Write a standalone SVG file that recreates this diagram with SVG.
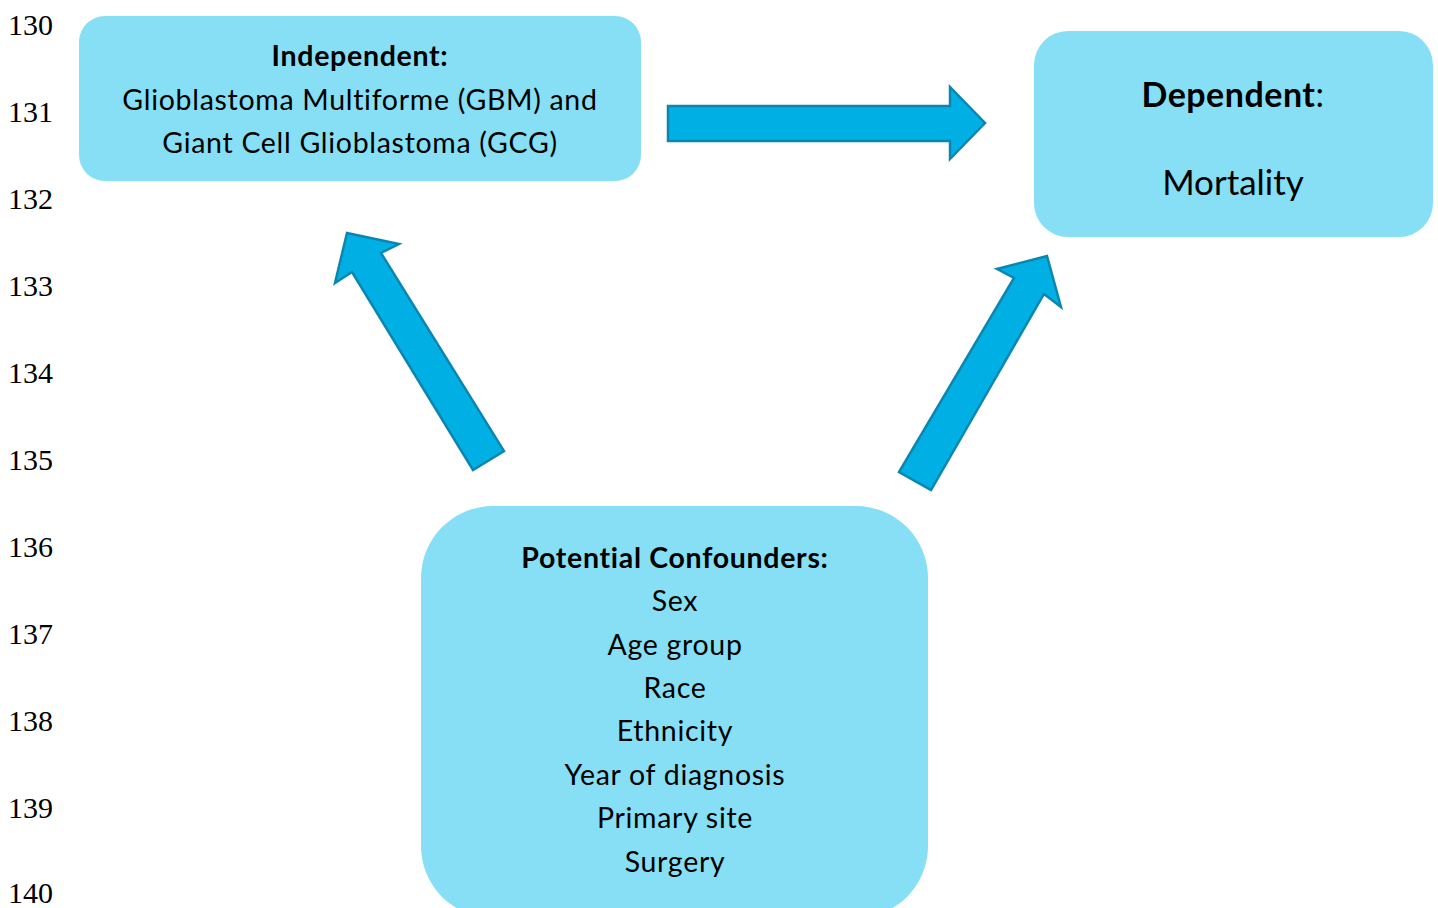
<svg xmlns="http://www.w3.org/2000/svg" width="1438" height="908" viewBox="0 0 1438 908">
<style>
.box{fill:#86DFF4;}
.t{font-family:Lato,"Open Sans",sans-serif;fill:#000;text-anchor:middle;}
.s{font-size:28.5px;letter-spacing:0.7px;}
.b{font-weight:bold;}
.ln{font-family:"Liberation Serif",serif;font-size:30px;fill:#000;}
.arr{fill:#00B0E4;stroke:#0B86B0;stroke-width:2.5;stroke-linejoin:miter;}
</style>
<rect width="1438" height="908" fill="#fff"/>
<g id="line-numbers">
<text class="ln" x="8" y="35">130</text>
<text class="ln" x="8" y="122">131</text>
<text class="ln" x="8" y="209">132</text>
<text class="ln" x="8" y="296">133</text>
<text class="ln" x="8" y="383">134</text>
<text class="ln" x="8" y="470">135</text>
<text class="ln" x="8" y="557">136</text>
<text class="ln" x="8" y="644">137</text>
<text class="ln" x="8" y="731">138</text>
<text class="ln" x="8" y="818">139</text>
<text class="ln" x="8" y="903">140</text>
</g>
<g id="connectors">
<polygon class="arr" points="668,106 950,106 950,87 985,123 950,159 950,141 668,141"/>
<polygon class="arr" points="347,233 399,244 381,253 504,451 473,470 352,272 335,283"/>
<polygon class="arr" points="1047,256 1061,307 1044,294 931,490 899,472 1014,278 997,269"/>
</g>
<g id="independent">
<rect class="box" x="79" y="16" width="562" height="165" rx="26"/>
<text class="t s b" x="360" y="66">Independent:</text>
<text class="t s" x="360" y="110">Glioblastoma Multiforme (GBM) and</text>
<text class="t s" x="360" y="153">Giant Cell Glioblastoma (GCG)</text>
</g>
<g id="dependent">
<rect class="box" x="1034" y="31" width="399" height="206" rx="34"/>
<text class="t" x="1233" y="107" font-size="34" letter-spacing="0.5"><tspan class="b">Dependent</tspan>:</text>
<text class="t" x="1233" y="195" font-size="35">Mortality</text>
</g>
<g id="confounders">
<rect class="box" x="421" y="506" width="507" height="412" rx="72"/>
<text class="t s b" x="675" y="568">Potential Confounders:</text>
<text class="t s" x="675" y="611">Sex</text>
<text class="t s" x="675" y="655">Age group</text>
<text class="t s" x="675" y="698">Race</text>
<text class="t s" x="675" y="741">Ethnicity</text>
<text class="t s" x="675" y="785">Year of diagnosis</text>
<text class="t s" x="675" y="828">Primary site</text>
<text class="t s" x="675" y="872">Surgery</text>
</g>
</svg>
